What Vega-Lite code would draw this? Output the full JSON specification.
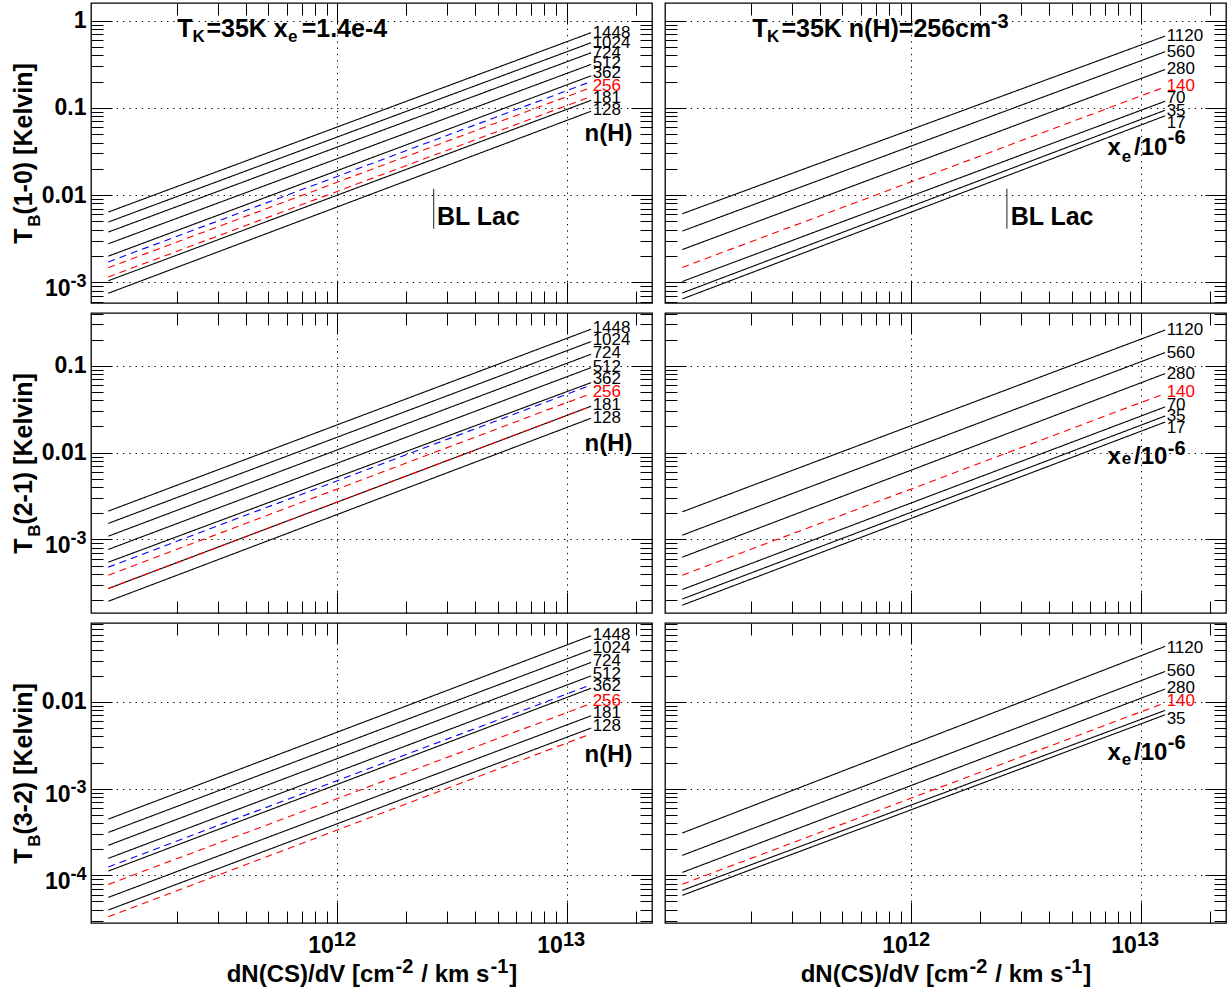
{
"$schema":"https://vega.github.io/schema/vega-lite/v6.json",
"padding":{"left":10,"top":1,"right":2,"bottom":0},
"config":{"view":{"stroke":"#000","strokeWidth":1.3},
 "axis":{"labelFont":"Liberation Sans","labelFontWeight":"bold","labelFontSize":23,"labelColor":"#000","titleFont":"Liberation Sans","titleFontWeight":"bold","titleFontSize":25,"titleColor":"#000","domain":false,"tickColor":"#000","tickWidth":1,"labelOverlap":false,"labelFlush":false,"labelBound":false,"gridColor":"#000","gridDash":[1.3,5]},
 "text":{"font":"Liberation Sans"}},
"datasets":{
"lines":[
{"panel":"r1L","series":"n1448","kind":"grid","N":1e11,"T":0.00638},{"panel":"r1L","series":"n1448","kind":"grid","N":1.28e13,"T":0.728},
{"panel":"r1L","series":"n1024","kind":"grid","N":1e11,"T":0.0049},{"panel":"r1L","series":"n1024","kind":"grid","N":1.28e13,"T":0.558},
{"panel":"r1L","series":"n724","kind":"grid","N":1e11,"T":0.00376},{"panel":"r1L","series":"n724","kind":"grid","N":1.28e13,"T":0.428},
{"panel":"r1L","series":"n512","kind":"grid","N":1e11,"T":0.00276},{"panel":"r1L","series":"n512","kind":"grid","N":1.28e13,"T":0.315},
{"panel":"r1L","series":"n362","kind":"grid","N":1e11,"T":0.00199},{"panel":"r1L","series":"n362","kind":"grid","N":1.28e13,"T":0.233},
{"panel":"r1L","series":"alt","kind":"variant","N":1e11,"T":0.00171},{"panel":"r1L","series":"alt","kind":"variant","N":1.28e13,"T":0.2},
{"panel":"r1L","series":"fid","kind":"fiducial","N":1e11,"T":0.00147},{"panel":"r1L","series":"fid","kind":"fiducial","N":1.28e13,"T":0.171},
{"panel":"r1L","series":"n181","kind":"grid","N":1e11,"T":0.00104},{"panel":"r1L","series":"n181","kind":"grid","N":1.28e13,"T":0.122},
{"panel":"r1L","series":"fid2","kind":"fiducial","N":1e11,"T":0.00115},{"panel":"r1L","series":"fid2","kind":"fiducial","N":1.28e13,"T":0.135},
{"panel":"r1L","series":"n128","kind":"grid","N":1e11,"T":0.000748},{"panel":"r1L","series":"n128","kind":"grid","N":1.28e13,"T":0.0914},
{"panel":"r1R","series":"x1120","kind":"grid","N":1e11,"T":0.0061},{"panel":"r1R","series":"x1120","kind":"grid","N":1.28e13,"T":0.665},
{"panel":"r1R","series":"x560","kind":"grid","N":1e11,"T":0.00386},{"panel":"r1R","series":"x560","kind":"grid","N":1.28e13,"T":0.44},
{"panel":"r1R","series":"x280","kind":"grid","N":1e11,"T":0.00237},{"panel":"r1R","series":"x280","kind":"grid","N":1.28e13,"T":0.275},
{"panel":"r1R","series":"x140","kind":"fiducial","N":1e11,"T":0.00148},{"panel":"r1R","series":"x140","kind":"fiducial","N":1.28e13,"T":0.174},
{"panel":"r1R","series":"x70","kind":"grid","N":1e11,"T":0.00102},{"panel":"r1R","series":"x70","kind":"grid","N":1.28e13,"T":0.119},
{"panel":"r1R","series":"x35","kind":"grid","N":1e11,"T":0.000753},{"panel":"r1R","series":"x35","kind":"grid","N":1.28e13,"T":0.0938},
{"panel":"r1R","series":"x17","kind":"grid","N":1e11,"T":0.000643},{"panel":"r1R","series":"x17","kind":"grid","N":1.28e13,"T":0.081},
{"panel":"r2L","series":"n1448","kind":"grid","N":1e11,"T":0.00212},{"panel":"r2L","series":"n1448","kind":"grid","N":1.28e13,"T":0.264},
{"panel":"r2L","series":"n1024","kind":"grid","N":1e11,"T":0.00153},{"panel":"r2L","series":"n1024","kind":"grid","N":1.28e13,"T":0.19},
{"panel":"r2L","series":"n724","kind":"grid","N":1e11,"T":0.00109},{"panel":"r2L","series":"n724","kind":"grid","N":1.28e13,"T":0.136},
{"panel":"r2L","series":"n512","kind":"grid","N":1e11,"T":0.000767},{"panel":"r2L","series":"n512","kind":"grid","N":1.28e13,"T":0.0953},
{"panel":"r2L","series":"n362","kind":"grid","N":1e11,"T":0.000547},{"panel":"r2L","series":"n362","kind":"grid","N":1.28e13,"T":0.064},
{"panel":"r2L","series":"alt","kind":"variant","N":1e11,"T":0.00048},{"panel":"r2L","series":"alt","kind":"variant","N":1.28e13,"T":0.06},
{"panel":"r2L","series":"fid","kind":"fiducial","N":1e11,"T":0.000388},{"panel":"r2L","series":"fid","kind":"fiducial","N":1.28e13,"T":0.048},
{"panel":"r2L","series":"n181","kind":"grid","N":1e11,"T":0.000272},{"panel":"r2L","series":"n181","kind":"grid","N":1.28e13,"T":0.0342},
{"panel":"r2L","series":"fid2","kind":"fiducial","N":1e11,"T":0.000272},{"panel":"r2L","series":"fid2","kind":"fiducial","N":1.28e13,"T":0.0342},
{"panel":"r2L","series":"n128","kind":"grid","N":1e11,"T":0.000194},{"panel":"r2L","series":"n128","kind":"grid","N":1.28e13,"T":0.0249},
{"panel":"r2R","series":"x1120","kind":"grid","N":1e11,"T":0.00208},{"panel":"r2R","series":"x1120","kind":"grid","N":1.28e13,"T":0.258},
{"panel":"r2R","series":"x560","kind":"grid","N":1e11,"T":0.00112},{"panel":"r2R","series":"x560","kind":"grid","N":1.28e13,"T":0.142},
{"panel":"r2R","series":"x280","kind":"grid","N":1e11,"T":0.000625},{"panel":"r2R","series":"x280","kind":"grid","N":1.28e13,"T":0.0813},
{"panel":"r2R","series":"x140","kind":"fiducial","N":1e11,"T":0.000388},{"panel":"r2R","series":"x140","kind":"fiducial","N":1.28e13,"T":0.048},
{"panel":"r2R","series":"x70","kind":"grid","N":1e11,"T":0.000265},{"panel":"r2R","series":"x70","kind":"grid","N":1.28e13,"T":0.0336},
{"panel":"r2R","series":"x35","kind":"grid","N":1e11,"T":0.000206},{"panel":"r2R","series":"x35","kind":"grid","N":1.28e13,"T":0.0264},
{"panel":"r2R","series":"x17","kind":"grid","N":1e11,"T":0.000175},{"panel":"r2R","series":"x17","kind":"grid","N":1.28e13,"T":0.0225},
{"panel":"r3L","series":"n1448","kind":"grid","N":1e11,"T":0.000445},{"panel":"r3L","series":"n1448","kind":"grid","N":1.28e13,"T":0.0581},
{"panel":"r3L","series":"n1024","kind":"grid","N":1e11,"T":0.000313},{"panel":"r3L","series":"n1024","kind":"grid","N":1.28e13,"T":0.04},
{"panel":"r3L","series":"n724","kind":"grid","N":1e11,"T":0.000222},{"panel":"r3L","series":"n724","kind":"grid","N":1.28e13,"T":0.0286},
{"panel":"r3L","series":"n512","kind":"grid","N":1e11,"T":0.000157},{"panel":"r3L","series":"n512","kind":"grid","N":1.28e13,"T":0.02},
{"panel":"r3L","series":"n362","kind":"grid","N":1e11,"T":0.000112},{"panel":"r3L","series":"n362","kind":"grid","N":1.28e13,"T":0.0144},
{"panel":"r3L","series":"alt","kind":"variant","N":1e11,"T":0.000125},{"panel":"r3L","series":"alt","kind":"variant","N":1.28e13,"T":0.0158},
{"panel":"r3L","series":"fid","kind":"fiducial","N":1e11,"T":0.0000787},{"panel":"r3L","series":"fid","kind":"fiducial","N":1.28e13,"T":0.0096},
{"panel":"r3L","series":"n181","kind":"grid","N":1e11,"T":0.0000557},{"panel":"r3L","series":"n181","kind":"grid","N":1.28e13,"T":0.00693},
{"panel":"r3L","series":"n128","kind":"grid","N":1e11,"T":0.0000398},{"panel":"r3L","series":"n128","kind":"grid","N":1.28e13,"T":0.005},
{"panel":"r3L","series":"fid2","kind":"fiducial","N":1e11,"T":0.0000333},{"panel":"r3L","series":"fid2","kind":"fiducial","N":1.28e13,"T":0.0043},
{"panel":"r3R","series":"x1120","kind":"grid","N":1e11,"T":0.000308},{"panel":"r3R","series":"x1120","kind":"grid","N":1.28e13,"T":0.0438},
{"panel":"r3R","series":"x560","kind":"grid","N":1e11,"T":0.00017},{"panel":"r3R","series":"x560","kind":"grid","N":1.28e13,"T":0.0225},
{"panel":"r3R","series":"x280","kind":"grid","N":1e11,"T":0.000108},{"panel":"r3R","series":"x280","kind":"grid","N":1.28e13,"T":0.0141},
{"panel":"r3R","series":"x140","kind":"fiducial","N":1e11,"T":0.000079},{"panel":"r3R","series":"x140","kind":"fiducial","N":1.28e13,"T":0.0098},
{"panel":"r3R","series":"x70","kind":"grid","N":1e11,"T":0.0000671},{"panel":"r3R","series":"x70","kind":"grid","N":1.28e13,"T":0.008},
{"panel":"r3R","series":"x35","kind":"grid","N":1e11,"T":0.0000588},{"panel":"r3R","series":"x35","kind":"grid","N":1.28e13,"T":0.00711}
],
"labels":[
{"panel":"r1L","text":"1448","kind":"grid","x":1.3e13,"y":0.728},{"panel":"r1L","text":"1024","kind":"grid","x":1.3e13,"y":0.558},{"panel":"r1L","text":"724","kind":"grid","x":1.3e13,"y":0.428},{"panel":"r1L","text":"512","kind":"grid","x":1.3e13,"y":0.329},{"panel":"r1L","text":"362","kind":"grid","x":1.3e13,"y":0.248},{"panel":"r1L","text":"256","kind":"fiducial","x":1.3e13,"y":0.177},{"panel":"r1L","text":"181","kind":"grid","x":1.3e13,"y":0.131},{"panel":"r1L","text":"128","kind":"grid","x":1.3e13,"y":0.0938},
{"panel":"r1R","text":"1120","kind":"grid","x":1.3e13,"y":0.665},{"panel":"r1R","text":"560","kind":"grid","x":1.3e13,"y":0.44},{"panel":"r1R","text":"280","kind":"grid","x":1.3e13,"y":0.278},{"panel":"r1R","text":"140","kind":"fiducial","x":1.3e13,"y":0.179},{"panel":"r1R","text":"70","kind":"grid","x":1.3e13,"y":0.128},{"panel":"r1R","text":"35","kind":"grid","x":1.3e13,"y":0.0914},{"panel":"r1R","text":"17","kind":"grid","x":1.3e13,"y":0.0678},
{"panel":"r2L","text":"1448","kind":"grid","x":1.3e13,"y":0.276},{"panel":"r2L","text":"1024","kind":"grid","x":1.3e13,"y":0.197},{"panel":"r2L","text":"724","kind":"grid","x":1.3e13,"y":0.14},{"panel":"r2L","text":"512","kind":"grid","x":1.3e13,"y":0.098},{"panel":"r2L","text":"362","kind":"grid","x":1.3e13,"y":0.07},{"panel":"r2L","text":"256","kind":"fiducial","x":1.3e13,"y":0.0504},{"panel":"r2L","text":"181","kind":"grid","x":1.3e13,"y":0.0354},{"panel":"r2L","text":"128","kind":"grid","x":1.3e13,"y":0.0253},
{"panel":"r2R","text":"1120","kind":"grid","x":1.3e13,"y":0.258},{"panel":"r2R","text":"560","kind":"grid","x":1.3e13,"y":0.142},{"panel":"r2R","text":"280","kind":"grid","x":1.3e13,"y":0.0813},{"panel":"r2R","text":"140","kind":"fiducial","x":1.3e13,"y":0.0504},{"panel":"r2R","text":"70","kind":"grid","x":1.3e13,"y":0.0351},{"panel":"r2R","text":"35","kind":"grid","x":1.3e13,"y":0.0264},{"panel":"r2R","text":"17","kind":"grid","x":1.3e13,"y":0.0194},
{"panel":"r3L","text":"1448","kind":"grid","x":1.3e13,"y":0.0596},{"panel":"r3L","text":"1024","kind":"grid","x":1.3e13,"y":0.0419},{"panel":"r3L","text":"724","kind":"grid","x":1.3e13,"y":0.0294},{"panel":"r3L","text":"512","kind":"grid","x":1.3e13,"y":0.0211},{"panel":"r3L","text":"362","kind":"grid","x":1.3e13,"y":0.0151},{"panel":"r3L","text":"256","kind":"fiducial","x":1.3e13,"y":0.0104},{"panel":"r3L","text":"181","kind":"grid","x":1.3e13,"y":0.00744},{"panel":"r3L","text":"128","kind":"grid","x":1.3e13,"y":0.00523},
{"panel":"r3R","text":"1120","kind":"grid","x":1.3e13,"y":0.0419},{"panel":"r3R","text":"560","kind":"grid","x":1.3e13,"y":0.0225},{"panel":"r3R","text":"280","kind":"grid","x":1.3e13,"y":0.0144},{"panel":"r3R","text":"140","kind":"fiducial","x":1.3e13,"y":0.0103},{"panel":"r3R","text":"35","kind":"grid","x":1.3e13,"y":0.00635}
],
"captions":[
{"panel":"r1L","text":"T\u00a0\u00a0=35K x\u00a0\u00a0=1.4e-4","x":2.0e11,"y":0.8},{"panel":"r1L","text":"BL Lac","x":2.72e12,"y":0.00564},
{"panel":"r1R","text":"T\u00a0\u00a0=35K n(H)=256cm","x":2.02e11,"y":0.8},{"panel":"r1R","text":"BL Lac","x":2.71e12,"y":0.00564}
],
"capsub":[
{"panel":"r1L","text":"K","x":2.332e11,"y":0.643},{"panel":"r1L","text":"e","x":6.09e11,"y":0.643},
{"panel":"r1R","text":"K","x":2.344e11,"y":0.643},{"panel":"r1R","text":"e","x":8.28e12,"y":0.0275},
{"panel":"r2R","text":"e","x":8.28e12,"y":0.00837},{"panel":"r3R","text":"e","x":8.28e12,"y":0.00215}
],
"keys":[
{"panel":"r1L","text":"n(H)","x":1.94e13,"y":0.0507},{"panel":"r1R","text":"x\u00a0\u00a0/10","x":1.31e13,"y":0.0342},
{"panel":"r2L","text":"n(H)","x":1.94e13,"y":0.01247},{"panel":"r2R","text":"x\u00a0\u00a0/10","x":1.31e13,"y":0.009},
{"panel":"r3L","text":"n(H)","x":1.94e13,"y":0.00246},{"panel":"r3R","text":"x\u00a0\u00a0/10","x":1.31e13,"y":0.00259}
],
"keyexp":[
{"panel":"r1R","text":"-6","x":1.315e13,"y":0.0456},{"panel":"r1R","text":"-3","x":2.22e12,"y":0.969},{"panel":"r2R","text":"-6","x":1.315e13,"y":0.011},{"panel":"r3R","text":"-6","x":1.315e13,"y":0.00336}
],
"bars":[
{"panel":"r1L","x":2.63e12,"y":0.0041,"y2":0.0118},{"panel":"r1R","x":2.61e12,"y":0.0041,"y2":0.0118}
]
},
"concat":[
{"width":561,"height":300,"layer":[
 {"data":{"name":"lines"},"transform":[{"filter":"datum.panel=='r1L'"}],"mark":{"type":"line","strokeWidth":1.1},
  "encoding":{"x":{"field":"N","type":"quantitative","scale":{"type":"log","domain":[8.405e10,2.36e13],"nice":false},
   "axis":{"orient":"bottom","values":[2e11,3e11,4e11,5e11,6e11,7e11,8e11,9e11,1e12,2e12,3e12,4e12,5e12,6e12,7e12,8e12,9e12,1e13,2e13],"labels":false,"title":null,"tickSize":-12,"grid":true,"gridOpacity":{"condition":{"test":"datum.value==1e12||datum.value==1e13","value":1},"value":0}}},
  "y":{"field":"T","type":"quantitative","scale":{"type":"log","domain":[0.000578,1.593],"nice":false},
   "axis":{"orient":"left","values":[0.0006,0.0007,0.0008,0.0009,0.001,0.002,0.003,0.004,0.005,0.006,0.007,0.008,0.009,0.01,0.02,0.03,0.04,0.05,0.06,0.07,0.08,0.09,0.1,0.2,0.3,0.4,0.5,0.6,0.7,0.8,0.9,1],"labelExpr":"datum.value==1?'1':datum.value==0.1?'0.1':datum.value==0.01?'0.01':''","labelFontSize":{"condition":{"test":"datum.value==1||datum.value==0.1||datum.value==0.01","value":23},"value":0},"labelPadding":17,"tickSize":-12,"grid":true,"gridOpacity":{"condition":{"test":"datum.value==1||datum.value==0.1||datum.value==0.01||datum.value==0.001||datum.value==0.0001","value":1},"value":0},"title":"T\u00a0\u00a0(1-0) [Kelvin]","titleX":-59.5,"titleY":150,"titleAngle":-90,"titleAlign":"center","titleBaseline":"alphabetic"}},
  "detail":{"field":"series"},
  "color":{"field":"kind","type":"nominal","scale":{"domain":["grid","fiducial","variant"],"range":["#000000","#ff0000","#0000ff"]},"legend":null},
  "strokeDash":{"field":"kind","type":"nominal","scale":{"domain":["grid","fiducial","variant"],"range":[[1,0],[7,5],[7,5]]},"legend":null}}},
 {"data":{"name":"labels"},"transform":[{"filter":"datum.panel=='r1L' && datum.kind=='grid'"}],"mark":{"type":"text","align":"left","baseline":"middle","fontSize":17},
  "encoding":{"x":{"field":"x","type":"quantitative","scale":{"type":"log","domain":[8.405e10,2.36e13],"nice":false},
   "axis":{"orient":"top","values":[2e11,3e11,4e11,5e11,6e11,7e11,8e11,9e11,1e12,2e12,3e12,4e12,5e12,6e12,7e12,8e12,9e12,1e13,2e13],"labels":false,"title":null,"grid":false,"tickSize":-12}},
  "y":{"field":"y","type":"quantitative","scale":{"type":"log","domain":[0.000578,1.593],"nice":false},
   "axis":{"orient":"right","values":[0.0006,0.0007,0.0008,0.0009,0.001,0.002,0.003,0.004,0.005,0.006,0.007,0.008,0.009,0.01,0.02,0.03,0.04,0.05,0.06,0.07,0.08,0.09,0.1,0.2,0.3,0.4,0.5,0.6,0.7,0.8,0.9,1],"labels":false,"title":null,"grid":false,"tickSize":-12}},
  "text":{"field":"text"},
  "color":{"field":"kind","type":"nominal","scale":{"domain":["grid","fiducial","variant"],"range":["#000000","#ff0000","#0000ff"]},"legend":null}}},
 {"data":{"name":"labels"},"transform":[{"filter":"datum.panel=='r1L' && datum.kind=='fiducial'"}],"mark":{"type":"text","align":"left","baseline":"middle","fontSize":17},
  "encoding":{"x":{"field":"x","type":"quantitative","scale":{"type":"log","domain":[8.405e10,2.36e13],"nice":false},
   "axis":{"orient":"bottom","values":[1e12,1e13],"labels":false,"title":null,"grid":false,"tickSize":-21}},
  "y":{"field":"y","type":"quantitative","scale":{"type":"log","domain":[0.000578,1.593],"nice":false},
   "axis":{"orient":"left","values":[0.001,0.01,0.1,1],"labelExpr":"(datum.value==0.001||datum.value==0.0001)?'10':''","labelFontSize":{"condition":{"test":"datum.value==0.001||datum.value==0.0001","value":23},"value":0},"labelPadding":42,"labelOffset":6,"title":null,"grid":false,"tickSize":-21}},
  "text":{"field":"text"},
  "color":{"field":"kind","type":"nominal","scale":{"domain":["grid","fiducial","variant"],"range":["#000000","#ff0000","#0000ff"]},"legend":null}}},
 {"data":{"name":"captions"},"transform":[{"filter":"datum.panel=='r1L'"}],"mark":{"type":"text","align":"left","baseline":"middle","fontSize":25,"fontWeight":"bold","color":"#000"},
  "encoding":{"x":{"field":"x","type":"quantitative","scale":{"type":"log","domain":[8.405e10,2.36e13],"nice":false},"axis":null},
   "y":{"field":"y","type":"quantitative","scale":{"type":"log","domain":[0.000578,1.593],"nice":false},"axis":null},"text":{"field":"text"}}},
 {"data":{"name":"capsub"},"transform":[{"filter":"datum.panel=='r1L'"}],"mark":{"type":"text","align":"left","baseline":"middle","fontSize":17,"fontWeight":"bold","color":"#000"},
  "encoding":{"x":{"field":"x","type":"quantitative","scale":{"type":"log","domain":[8.405e10,2.36e13],"nice":false},"axis":null},
   "y":{"field":"y","type":"quantitative","scale":{"type":"log","domain":[0.000578,1.593],"nice":false},"axis":null},"text":{"field":"text"}}},
 {"data":{"name":"keys"},"transform":[{"filter":"datum.panel=='r1L'"}],"mark":{"type":"text","align":"right","baseline":"middle","fontSize":24,"fontWeight":"bold","color":"#000"},
  "encoding":{"x":{"field":"x","type":"quantitative","scale":{"type":"log","domain":[8.405e10,2.36e13],"nice":false},"axis":null},
   "y":{"field":"y","type":"quantitative","scale":{"type":"log","domain":[0.000578,1.593],"nice":false},
    "axis":{"orient":"left","values":[0.001],"labelExpr":"datum.value==0.001?'-3':'-4'","ticks":false,"tickSize":0,"grid":false,"domain":false,"labelFontSize":18,"labelPadding":5,"labelOffset":-1,"title":"B","titleFontSize":17,"titleX":-52,"titleY":217,"titleAngle":-90,"titleAlign":"center","titleBaseline":"alphabetic"}},"text":{"field":"text"}}},
 {"data":{"name":"bars"},"transform":[{"filter":"datum.panel=='r1L'"}],"mark":{"type":"rule","color":"#444","strokeWidth":1.2},
  "encoding":{"x":{"field":"x","type":"quantitative","scale":{"type":"log","domain":[8.405e10,2.36e13],"nice":false},"axis":{"orient":"top","values":[1e12,1e13],"labels":false,"title":null,"grid":false,"tickSize":-21}},
   "y":{"field":"y","type":"quantitative","scale":{"type":"log","domain":[0.000578,1.593],"nice":false},"axis":{"orient":"right","values":[0.001,0.01,0.1,1],"labels":false,"title":null,"grid":false,"tickSize":-21}},"y2":{"field":"y2"}}}
],"resolve":{"axis":{"x":"independent","y":"independent"}}},

{"width":561,"height":300,"layer":[
 {"data":{"name":"lines"},"transform":[{"filter":"datum.panel=='r1R'"}],"mark":{"type":"line","strokeWidth":1.1},
  "encoding":{"x":{"field":"N","type":"quantitative","scale":{"type":"log","domain":[8.405e10,2.36e13],"nice":false},
   "axis":{"orient":"bottom","values":[2e11,3e11,4e11,5e11,6e11,7e11,8e11,9e11,1e12,2e12,3e12,4e12,5e12,6e12,7e12,8e12,9e12,1e13,2e13],"labels":false,"title":null,"tickSize":-12,"grid":true,"gridOpacity":{"condition":{"test":"datum.value==1e12||datum.value==1e13","value":1},"value":0}}},
  "y":{"field":"T","type":"quantitative","scale":{"type":"log","domain":[0.000578,1.593],"nice":false},
   "axis":{"orient":"left","values":[0.0006,0.0007,0.0008,0.0009,0.001,0.002,0.003,0.004,0.005,0.006,0.007,0.008,0.009,0.01,0.02,0.03,0.04,0.05,0.06,0.07,0.08,0.09,0.1,0.2,0.3,0.4,0.5,0.6,0.7,0.8,0.9,1],"labels":false,"title":null,"tickSize":-12,"grid":true,"gridOpacity":{"condition":{"test":"datum.value==1||datum.value==0.1||datum.value==0.01||datum.value==0.001||datum.value==0.0001","value":1},"value":0}}},
  "detail":{"field":"series"},
  "color":{"field":"kind","type":"nominal","scale":{"domain":["grid","fiducial","variant"],"range":["#000000","#ff0000","#0000ff"]},"legend":null},
  "strokeDash":{"field":"kind","type":"nominal","scale":{"domain":["grid","fiducial","variant"],"range":[[1,0],[7,5],[7,5]]},"legend":null}}},
 {"data":{"name":"labels"},"transform":[{"filter":"datum.panel=='r1R' && datum.kind=='grid'"}],"mark":{"type":"text","align":"left","baseline":"middle","fontSize":17},
  "encoding":{"x":{"field":"x","type":"quantitative","scale":{"type":"log","domain":[8.405e10,2.36e13],"nice":false},
   "axis":{"orient":"top","values":[2e11,3e11,4e11,5e11,6e11,7e11,8e11,9e11,1e12,2e12,3e12,4e12,5e12,6e12,7e12,8e12,9e12,1e13,2e13],"labels":false,"title":null,"grid":false,"tickSize":-12}},
  "y":{"field":"y","type":"quantitative","scale":{"type":"log","domain":[0.000578,1.593],"nice":false},
   "axis":{"orient":"right","values":[0.0006,0.0007,0.0008,0.0009,0.001,0.002,0.003,0.004,0.005,0.006,0.007,0.008,0.009,0.01,0.02,0.03,0.04,0.05,0.06,0.07,0.08,0.09,0.1,0.2,0.3,0.4,0.5,0.6,0.7,0.8,0.9,1],"labels":false,"title":null,"grid":false,"tickSize":-12}},
  "text":{"field":"text"},
  "color":{"field":"kind","type":"nominal","scale":{"domain":["grid","fiducial","variant"],"range":["#000000","#ff0000","#0000ff"]},"legend":null}}},
 {"data":{"name":"labels"},"transform":[{"filter":"datum.panel=='r1R' && datum.kind=='fiducial'"}],"mark":{"type":"text","align":"left","baseline":"middle","fontSize":17},
  "encoding":{"x":{"field":"x","type":"quantitative","scale":{"type":"log","domain":[8.405e10,2.36e13],"nice":false},
   "axis":{"orient":"bottom","values":[1e12,1e13],"labels":false,"title":null,"grid":false,"tickSize":-21}},
  "y":{"field":"y","type":"quantitative","scale":{"type":"log","domain":[0.000578,1.593],"nice":false},
   "axis":{"orient":"left","values":[0.001,0.01,0.1,1],"labels":false,"title":null,"grid":false,"tickSize":-21}},
  "text":{"field":"text"},
  "color":{"field":"kind","type":"nominal","scale":{"domain":["grid","fiducial","variant"],"range":["#000000","#ff0000","#0000ff"]},"legend":null}}},
 {"data":{"name":"captions"},"transform":[{"filter":"datum.panel=='r1R'"}],"mark":{"type":"text","align":"left","baseline":"middle","fontSize":25,"fontWeight":"bold","color":"#000"},
  "encoding":{"x":{"field":"x","type":"quantitative","scale":{"type":"log","domain":[8.405e10,2.36e13],"nice":false},"axis":null},
   "y":{"field":"y","type":"quantitative","scale":{"type":"log","domain":[0.000578,1.593],"nice":false},"axis":null},"text":{"field":"text"}}},
 {"data":{"name":"capsub"},"transform":[{"filter":"datum.panel=='r1R'"}],"mark":{"type":"text","align":"left","baseline":"middle","fontSize":17,"fontWeight":"bold","color":"#000"},
  "encoding":{"x":{"field":"x","type":"quantitative","scale":{"type":"log","domain":[8.405e10,2.36e13],"nice":false},"axis":null},
   "y":{"field":"y","type":"quantitative","scale":{"type":"log","domain":[0.000578,1.593],"nice":false},"axis":null},"text":{"field":"text"}}},
 {"data":{"name":"keys"},"transform":[{"filter":"datum.panel=='r1R'"}],"mark":{"type":"text","align":"right","baseline":"middle","fontSize":24,"fontWeight":"bold","color":"#000"},
  "encoding":{"x":{"field":"x","type":"quantitative","scale":{"type":"log","domain":[8.405e10,2.36e13],"nice":false},"axis":null},
   "y":{"field":"y","type":"quantitative","scale":{"type":"log","domain":[0.000578,1.593],"nice":false},"axis":null},"text":{"field":"text"}}},
 {"data":{"name":"keyexp"},"transform":[{"filter":"datum.panel=='r1R'"}],"mark":{"type":"text","align":"left","baseline":"middle","fontSize":20,"fontWeight":"bold","color":"#000"},
  "encoding":{"x":{"field":"x","type":"quantitative","scale":{"type":"log","domain":[8.405e10,2.36e13],"nice":false},"axis":null},
   "y":{"field":"y","type":"quantitative","scale":{"type":"log","domain":[0.000578,1.593],"nice":false},"axis":null},"text":{"field":"text"}}},
 {"data":{"name":"bars"},"transform":[{"filter":"datum.panel=='r1R'"}],"mark":{"type":"rule","color":"#444","strokeWidth":1.2},
  "encoding":{"x":{"field":"x","type":"quantitative","scale":{"type":"log","domain":[8.405e10,2.36e13],"nice":false},"axis":{"orient":"top","values":[1e12,1e13],"labels":false,"title":null,"grid":false,"tickSize":-21}},
   "y":{"field":"y","type":"quantitative","scale":{"type":"log","domain":[0.000578,1.593],"nice":false},"axis":{"orient":"right","values":[0.001,0.01,0.1,1],"labels":false,"title":null,"grid":false,"tickSize":-21}},"y2":{"field":"y2"}}}
],"resolve":{"axis":{"x":"independent","y":"independent"}}},

{"width":561,"height":300,"layer":[
 {"data":{"name":"lines"},"transform":[{"filter":"datum.panel=='r2L'"}],"mark":{"type":"line","strokeWidth":1.1},
  "encoding":{"x":{"field":"N","type":"quantitative","scale":{"type":"log","domain":[8.405e10,2.36e13],"nice":false},
   "axis":{"orient":"bottom","values":[2e11,3e11,4e11,5e11,6e11,7e11,8e11,9e11,1e12,2e12,3e12,4e12,5e12,6e12,7e12,8e12,9e12,1e13,2e13],"labels":false,"title":null,"tickSize":-12,"grid":true,"gridOpacity":{"condition":{"test":"datum.value==1e12||datum.value==1e13","value":1},"value":0}}},
  "y":{"field":"T","type":"quantitative","scale":{"type":"log","domain":[0.0001422,0.4055],"nice":false},
   "axis":{"orient":"left","values":[0.0002,0.0003,0.0004,0.0005,0.0006,0.0007,0.0008,0.0009,0.001,0.002,0.003,0.004,0.005,0.006,0.007,0.008,0.009,0.01,0.02,0.03,0.04,0.05,0.06,0.07,0.08,0.09,0.1,0.2,0.3,0.4],"labelExpr":"datum.value==1?'1':datum.value==0.1?'0.1':datum.value==0.01?'0.01':''","labelFontSize":{"condition":{"test":"datum.value==1||datum.value==0.1||datum.value==0.01","value":23},"value":0},"labelPadding":17,"tickSize":-12,"grid":true,"gridOpacity":{"condition":{"test":"datum.value==1||datum.value==0.1||datum.value==0.01||datum.value==0.001||datum.value==0.0001","value":1},"value":0},"title":"T\u00a0\u00a0(2-1) [Kelvin]","titleX":-59.5,"titleY":150,"titleAngle":-90,"titleAlign":"center","titleBaseline":"alphabetic"}},
  "detail":{"field":"series"},
  "color":{"field":"kind","type":"nominal","scale":{"domain":["grid","fiducial","variant"],"range":["#000000","#ff0000","#0000ff"]},"legend":null},
  "strokeDash":{"field":"kind","type":"nominal","scale":{"domain":["grid","fiducial","variant"],"range":[[1,0],[7,5],[7,5]]},"legend":null}}},
 {"data":{"name":"labels"},"transform":[{"filter":"datum.panel=='r2L' && datum.kind=='grid'"}],"mark":{"type":"text","align":"left","baseline":"middle","fontSize":17},
  "encoding":{"x":{"field":"x","type":"quantitative","scale":{"type":"log","domain":[8.405e10,2.36e13],"nice":false},
   "axis":{"orient":"top","values":[2e11,3e11,4e11,5e11,6e11,7e11,8e11,9e11,1e12,2e12,3e12,4e12,5e12,6e12,7e12,8e12,9e12,1e13,2e13],"labels":false,"title":null,"grid":false,"tickSize":-12}},
  "y":{"field":"y","type":"quantitative","scale":{"type":"log","domain":[0.0001422,0.4055],"nice":false},
   "axis":{"orient":"right","values":[0.0002,0.0003,0.0004,0.0005,0.0006,0.0007,0.0008,0.0009,0.001,0.002,0.003,0.004,0.005,0.006,0.007,0.008,0.009,0.01,0.02,0.03,0.04,0.05,0.06,0.07,0.08,0.09,0.1,0.2,0.3,0.4],"labels":false,"title":null,"grid":false,"tickSize":-12}},
  "text":{"field":"text"},
  "color":{"field":"kind","type":"nominal","scale":{"domain":["grid","fiducial","variant"],"range":["#000000","#ff0000","#0000ff"]},"legend":null}}},
 {"data":{"name":"labels"},"transform":[{"filter":"datum.panel=='r2L' && datum.kind=='fiducial'"}],"mark":{"type":"text","align":"left","baseline":"middle","fontSize":17},
  "encoding":{"x":{"field":"x","type":"quantitative","scale":{"type":"log","domain":[8.405e10,2.36e13],"nice":false},
   "axis":{"orient":"bottom","values":[1e12,1e13],"labels":false,"title":null,"grid":false,"tickSize":-21}},
  "y":{"field":"y","type":"quantitative","scale":{"type":"log","domain":[0.0001422,0.4055],"nice":false},
   "axis":{"orient":"left","values":[0.001,0.01,0.1],"labelExpr":"(datum.value==0.001||datum.value==0.0001)?'10':''","labelFontSize":{"condition":{"test":"datum.value==0.001||datum.value==0.0001","value":23},"value":0},"labelPadding":42,"labelOffset":6,"title":null,"grid":false,"tickSize":-21}},
  "text":{"field":"text"},
  "color":{"field":"kind","type":"nominal","scale":{"domain":["grid","fiducial","variant"],"range":["#000000","#ff0000","#0000ff"]},"legend":null}}},
 {"data":{"name":"keys"},"transform":[{"filter":"datum.panel=='r2L'"}],"mark":{"type":"text","align":"right","baseline":"middle","fontSize":24,"fontWeight":"bold","color":"#000"},
  "encoding":{"x":{"field":"x","type":"quantitative","scale":{"type":"log","domain":[8.405e10,2.36e13],"nice":false},"axis":null},
   "y":{"field":"y","type":"quantitative","scale":{"type":"log","domain":[0.0001422,0.4055],"nice":false},
    "axis":{"orient":"left","values":[0.001],"labelExpr":"datum.value==0.001?'-3':'-4'","ticks":false,"tickSize":0,"grid":false,"domain":false,"labelFontSize":18,"labelPadding":5,"labelOffset":-1,"title":"B","titleFontSize":17,"titleX":-52,"titleY":217,"titleAngle":-90,"titleAlign":"center","titleBaseline":"alphabetic"}},"text":{"field":"text"}}},
 {"data":{"name":"bars"},"transform":[{"filter":"datum.panel=='r2L'"}],"mark":{"type":"rule","color":"#444","strokeWidth":1.2},
  "encoding":{"x":{"field":"x","type":"quantitative","scale":{"type":"log","domain":[8.405e10,2.36e13],"nice":false},"axis":{"orient":"top","values":[1e12,1e13],"labels":false,"title":null,"grid":false,"tickSize":-21}},
   "y":{"field":"y","type":"quantitative","scale":{"type":"log","domain":[0.0001422,0.4055],"nice":false},"axis":{"orient":"right","values":[0.001,0.01,0.1],"labels":false,"title":null,"grid":false,"tickSize":-21}},"y2":{"field":"y2"}}}
],"resolve":{"axis":{"x":"independent","y":"independent"}}},

{"width":561,"height":300,"layer":[
 {"data":{"name":"lines"},"transform":[{"filter":"datum.panel=='r2R'"}],"mark":{"type":"line","strokeWidth":1.1},
  "encoding":{"x":{"field":"N","type":"quantitative","scale":{"type":"log","domain":[8.405e10,2.36e13],"nice":false},
   "axis":{"orient":"bottom","values":[2e11,3e11,4e11,5e11,6e11,7e11,8e11,9e11,1e12,2e12,3e12,4e12,5e12,6e12,7e12,8e12,9e12,1e13,2e13],"labels":false,"title":null,"tickSize":-12,"grid":true,"gridOpacity":{"condition":{"test":"datum.value==1e12||datum.value==1e13","value":1},"value":0}}},
  "y":{"field":"T","type":"quantitative","scale":{"type":"log","domain":[0.0001422,0.4055],"nice":false},
   "axis":{"orient":"left","values":[0.0002,0.0003,0.0004,0.0005,0.0006,0.0007,0.0008,0.0009,0.001,0.002,0.003,0.004,0.005,0.006,0.007,0.008,0.009,0.01,0.02,0.03,0.04,0.05,0.06,0.07,0.08,0.09,0.1,0.2,0.3,0.4],"labels":false,"title":null,"tickSize":-12,"grid":true,"gridOpacity":{"condition":{"test":"datum.value==1||datum.value==0.1||datum.value==0.01||datum.value==0.001||datum.value==0.0001","value":1},"value":0}}},
  "detail":{"field":"series"},
  "color":{"field":"kind","type":"nominal","scale":{"domain":["grid","fiducial","variant"],"range":["#000000","#ff0000","#0000ff"]},"legend":null},
  "strokeDash":{"field":"kind","type":"nominal","scale":{"domain":["grid","fiducial","variant"],"range":[[1,0],[7,5],[7,5]]},"legend":null}}},
 {"data":{"name":"labels"},"transform":[{"filter":"datum.panel=='r2R' && datum.kind=='grid'"}],"mark":{"type":"text","align":"left","baseline":"middle","fontSize":17},
  "encoding":{"x":{"field":"x","type":"quantitative","scale":{"type":"log","domain":[8.405e10,2.36e13],"nice":false},
   "axis":{"orient":"top","values":[2e11,3e11,4e11,5e11,6e11,7e11,8e11,9e11,1e12,2e12,3e12,4e12,5e12,6e12,7e12,8e12,9e12,1e13,2e13],"labels":false,"title":null,"grid":false,"tickSize":-12}},
  "y":{"field":"y","type":"quantitative","scale":{"type":"log","domain":[0.0001422,0.4055],"nice":false},
   "axis":{"orient":"right","values":[0.0002,0.0003,0.0004,0.0005,0.0006,0.0007,0.0008,0.0009,0.001,0.002,0.003,0.004,0.005,0.006,0.007,0.008,0.009,0.01,0.02,0.03,0.04,0.05,0.06,0.07,0.08,0.09,0.1,0.2,0.3,0.4],"labels":false,"title":null,"grid":false,"tickSize":-12}},
  "text":{"field":"text"},
  "color":{"field":"kind","type":"nominal","scale":{"domain":["grid","fiducial","variant"],"range":["#000000","#ff0000","#0000ff"]},"legend":null}}},
 {"data":{"name":"labels"},"transform":[{"filter":"datum.panel=='r2R' && datum.kind=='fiducial'"}],"mark":{"type":"text","align":"left","baseline":"middle","fontSize":17},
  "encoding":{"x":{"field":"x","type":"quantitative","scale":{"type":"log","domain":[8.405e10,2.36e13],"nice":false},
   "axis":{"orient":"bottom","values":[1e12,1e13],"labels":false,"title":null,"grid":false,"tickSize":-21}},
  "y":{"field":"y","type":"quantitative","scale":{"type":"log","domain":[0.0001422,0.4055],"nice":false},
   "axis":{"orient":"left","values":[0.001,0.01,0.1],"labels":false,"title":null,"grid":false,"tickSize":-21}},
  "text":{"field":"text"},
  "color":{"field":"kind","type":"nominal","scale":{"domain":["grid","fiducial","variant"],"range":["#000000","#ff0000","#0000ff"]},"legend":null}}},
 {"data":{"name":"capsub"},"transform":[{"filter":"datum.panel=='r2R'"}],"mark":{"type":"text","align":"left","baseline":"middle","fontSize":17,"fontWeight":"bold","color":"#000"},
  "encoding":{"x":{"field":"x","type":"quantitative","scale":{"type":"log","domain":[8.405e10,2.36e13],"nice":false},"axis":null},
   "y":{"field":"y","type":"quantitative","scale":{"type":"log","domain":[0.0001422,0.4055],"nice":false},"axis":null},"text":{"field":"text"}}},
 {"data":{"name":"keys"},"transform":[{"filter":"datum.panel=='r2R'"}],"mark":{"type":"text","align":"right","baseline":"middle","fontSize":24,"fontWeight":"bold","color":"#000"},
  "encoding":{"x":{"field":"x","type":"quantitative","scale":{"type":"log","domain":[8.405e10,2.36e13],"nice":false},"axis":null},
   "y":{"field":"y","type":"quantitative","scale":{"type":"log","domain":[0.0001422,0.4055],"nice":false},"axis":null},"text":{"field":"text"}}},
 {"data":{"name":"keyexp"},"transform":[{"filter":"datum.panel=='r2R'"}],"mark":{"type":"text","align":"left","baseline":"middle","fontSize":20,"fontWeight":"bold","color":"#000"},
  "encoding":{"x":{"field":"x","type":"quantitative","scale":{"type":"log","domain":[8.405e10,2.36e13],"nice":false},"axis":null},
   "y":{"field":"y","type":"quantitative","scale":{"type":"log","domain":[0.0001422,0.4055],"nice":false},"axis":null},"text":{"field":"text"}}},
 {"data":{"name":"bars"},"transform":[{"filter":"datum.panel=='r2R'"}],"mark":{"type":"rule","color":"#444","strokeWidth":1.2},
  "encoding":{"x":{"field":"x","type":"quantitative","scale":{"type":"log","domain":[8.405e10,2.36e13],"nice":false},"axis":{"orient":"top","values":[1e12,1e13],"labels":false,"title":null,"grid":false,"tickSize":-21}},
   "y":{"field":"y","type":"quantitative","scale":{"type":"log","domain":[0.0001422,0.4055],"nice":false},"axis":{"orient":"right","values":[0.001,0.01,0.1],"labels":false,"title":null,"grid":false,"tickSize":-21}},"y2":{"field":"y2"}}}
],"resolve":{"axis":{"x":"independent","y":"independent"}}},

{"width":561,"height":300,"layer":[
 {"data":{"name":"lines"},"transform":[{"filter":"datum.panel=='r3L'"}],"mark":{"type":"line","strokeWidth":1.1},
  "encoding":{"x":{"field":"N","type":"quantitative","scale":{"type":"log","domain":[8.405e10,2.36e13],"nice":false},
   "axis":{"orient":"bottom","values":[2e11,3e11,4e11,5e11,6e11,7e11,8e11,9e11,1e12,2e12,3e12,4e12,5e12,6e12,7e12,8e12,9e12,1e13,2e13],"labelExpr":"(datum.value==1e12||datum.value==1e13)?'10':''","labelFontSize":{"condition":{"test":"datum.value==1e12||datum.value==1e13","value":23},"value":0},"labelOffset":-17,"labelPadding":23,"title":"dN(CS)/dV [cm\u00a0\u00a0\u00a0 / km s\u00a0\u00a0\u00a0]","titleFontSize":24,"titleX":280.5,"titleY":58,"titleAlign":"center","titleBaseline":"alphabetic","tickSize":-12,"grid":true,"gridOpacity":{"condition":{"test":"datum.value==1e12||datum.value==1e13","value":1},"value":0}}},
  "y":{"field":"T","type":"quantitative","scale":{"type":"log","domain":[0.0000282,0.0815],"nice":false},
   "axis":{"orient":"left","values":[0.00003,0.00004,0.00005,0.00006,0.00007,0.00008,0.00009,0.0001,0.0002,0.0003,0.0004,0.0005,0.0006,0.0007,0.0008,0.0009,0.001,0.002,0.003,0.004,0.005,0.006,0.007,0.008,0.009,0.01,0.02,0.03,0.04,0.05,0.06,0.07,0.08],"labelExpr":"datum.value==1?'1':datum.value==0.1?'0.1':datum.value==0.01?'0.01':''","labelFontSize":{"condition":{"test":"datum.value==1||datum.value==0.1||datum.value==0.01","value":23},"value":0},"labelPadding":17,"tickSize":-12,"grid":true,"gridOpacity":{"condition":{"test":"datum.value==1||datum.value==0.1||datum.value==0.01||datum.value==0.001||datum.value==0.0001","value":1},"value":0},"title":"T\u00a0\u00a0(3-2) [Kelvin]","titleX":-59.5,"titleY":150,"titleAngle":-90,"titleAlign":"center","titleBaseline":"alphabetic"}},
  "detail":{"field":"series"},
  "color":{"field":"kind","type":"nominal","scale":{"domain":["grid","fiducial","variant"],"range":["#000000","#ff0000","#0000ff"]},"legend":null},
  "strokeDash":{"field":"kind","type":"nominal","scale":{"domain":["grid","fiducial","variant"],"range":[[1,0],[7,5],[7,5]]},"legend":null}}},
 {"data":{"name":"labels"},"transform":[{"filter":"datum.panel=='r3L' && datum.kind=='grid'"}],"mark":{"type":"text","align":"left","baseline":"middle","fontSize":17},
  "encoding":{"x":{"field":"x","type":"quantitative","scale":{"type":"log","domain":[8.405e10,2.36e13],"nice":false},
   "axis":{"orient":"top","values":[2e11,3e11,4e11,5e11,6e11,7e11,8e11,9e11,1e12,2e12,3e12,4e12,5e12,6e12,7e12,8e12,9e12,1e13,2e13],"labels":false,"title":null,"grid":false,"tickSize":-12}},
  "y":{"field":"y","type":"quantitative","scale":{"type":"log","domain":[0.0000282,0.0815],"nice":false},
   "axis":{"orient":"right","values":[0.00003,0.00004,0.00005,0.00006,0.00007,0.00008,0.00009,0.0001,0.0002,0.0003,0.0004,0.0005,0.0006,0.0007,0.0008,0.0009,0.001,0.002,0.003,0.004,0.005,0.006,0.007,0.008,0.009,0.01,0.02,0.03,0.04,0.05,0.06,0.07,0.08],"labels":false,"title":null,"grid":false,"tickSize":-12}},
  "text":{"field":"text"},
  "color":{"field":"kind","type":"nominal","scale":{"domain":["grid","fiducial","variant"],"range":["#000000","#ff0000","#0000ff"]},"legend":null}}},
 {"data":{"name":"labels"},"transform":[{"filter":"datum.panel=='r3L' && datum.kind=='fiducial'"}],"mark":{"type":"text","align":"left","baseline":"middle","fontSize":17},
  "encoding":{"x":{"field":"x","type":"quantitative","scale":{"type":"log","domain":[8.405e10,2.36e13],"nice":false},
   "axis":{"orient":"bottom","values":[1e12,1e13],"labels":false,"grid":false,"tickSize":-21,"title":"-2","titleFontSize":20,"titleX":313,"titleY":49,"titleAlign":"center","titleBaseline":"alphabetic"}},
  "y":{"field":"y","type":"quantitative","scale":{"type":"log","domain":[0.0000282,0.0815],"nice":false},
   "axis":{"orient":"left","values":[0.0001,0.001,0.01],"labelExpr":"(datum.value==0.001||datum.value==0.0001)?'10':''","labelFontSize":{"condition":{"test":"datum.value==0.001||datum.value==0.0001","value":23},"value":0},"labelPadding":42,"labelOffset":6,"title":null,"grid":false,"tickSize":-21}},
  "text":{"field":"text"},
  "color":{"field":"kind","type":"nominal","scale":{"domain":["grid","fiducial","variant"],"range":["#000000","#ff0000","#0000ff"]},"legend":null}}},
 {"data":{"name":"keys"},"transform":[{"filter":"datum.panel=='r3L'"}],"mark":{"type":"text","align":"right","baseline":"middle","fontSize":24,"fontWeight":"bold","color":"#000"},
  "encoding":{"x":{"field":"x","type":"quantitative","scale":{"type":"log","domain":[8.405e10,2.36e13],"nice":false},
    "axis":{"orient":"bottom","values":[1e12,1e13],"labelExpr":"datum.value==1e12?'12':'13'","ticks":false,"tickSize":0,"grid":false,"domain":false,"labelFontSize":20,"labelOffset":7,"labelPadding":6.5,"title":"-1","titleFontSize":20,"titleX":408,"titleY":49,"titleAlign":"center","titleBaseline":"alphabetic"}},
   "y":{"field":"y","type":"quantitative","scale":{"type":"log","domain":[0.0000282,0.0815],"nice":false},
    "axis":{"orient":"left","values":[0.001,0.0001],"labelExpr":"datum.value==0.001?'-3':'-4'","ticks":false,"tickSize":0,"grid":false,"domain":false,"labelFontSize":18,"labelPadding":5,"labelOffset":-1,"title":"B","titleFontSize":17,"titleX":-52,"titleY":217,"titleAngle":-90,"titleAlign":"center","titleBaseline":"alphabetic"}},"text":{"field":"text"}}},
 {"data":{"name":"bars"},"transform":[{"filter":"datum.panel=='r3L'"}],"mark":{"type":"rule","color":"#444","strokeWidth":1.2},
  "encoding":{"x":{"field":"x","type":"quantitative","scale":{"type":"log","domain":[8.405e10,2.36e13],"nice":false},"axis":{"orient":"top","values":[1e12,1e13],"labels":false,"title":null,"grid":false,"tickSize":-21}},
   "y":{"field":"y","type":"quantitative","scale":{"type":"log","domain":[0.0000282,0.0815],"nice":false},"axis":{"orient":"right","values":[0.0001,0.001,0.01],"labels":false,"title":null,"grid":false,"tickSize":-21}},"y2":{"field":"y2"}}}
],"resolve":{"axis":{"x":"independent","y":"independent"}}},

{"width":561,"height":300,"layer":[
 {"data":{"name":"lines"},"transform":[{"filter":"datum.panel=='r3R'"}],"mark":{"type":"line","strokeWidth":1.1},
  "encoding":{"x":{"field":"N","type":"quantitative","scale":{"type":"log","domain":[8.405e10,2.36e13],"nice":false},
   "axis":{"orient":"bottom","values":[2e11,3e11,4e11,5e11,6e11,7e11,8e11,9e11,1e12,2e12,3e12,4e12,5e12,6e12,7e12,8e12,9e12,1e13,2e13],"labelExpr":"(datum.value==1e12||datum.value==1e13)?'10':''","labelFontSize":{"condition":{"test":"datum.value==1e12||datum.value==1e13","value":23},"value":0},"labelOffset":-17,"labelPadding":23,"title":"dN(CS)/dV [cm\u00a0\u00a0\u00a0 / km s\u00a0\u00a0\u00a0]","titleFontSize":24,"titleX":280.5,"titleY":58,"titleAlign":"center","titleBaseline":"alphabetic","tickSize":-12,"grid":true,"gridOpacity":{"condition":{"test":"datum.value==1e12||datum.value==1e13","value":1},"value":0}}},
  "y":{"field":"T","type":"quantitative","scale":{"type":"log","domain":[0.0000282,0.0815],"nice":false},
   "axis":{"orient":"left","values":[0.00003,0.00004,0.00005,0.00006,0.00007,0.00008,0.00009,0.0001,0.0002,0.0003,0.0004,0.0005,0.0006,0.0007,0.0008,0.0009,0.001,0.002,0.003,0.004,0.005,0.006,0.007,0.008,0.009,0.01,0.02,0.03,0.04,0.05,0.06,0.07,0.08],"labels":false,"title":null,"tickSize":-12,"grid":true,"gridOpacity":{"condition":{"test":"datum.value==1||datum.value==0.1||datum.value==0.01||datum.value==0.001||datum.value==0.0001","value":1},"value":0}}},
  "detail":{"field":"series"},
  "color":{"field":"kind","type":"nominal","scale":{"domain":["grid","fiducial","variant"],"range":["#000000","#ff0000","#0000ff"]},"legend":null},
  "strokeDash":{"field":"kind","type":"nominal","scale":{"domain":["grid","fiducial","variant"],"range":[[1,0],[7,5],[7,5]]},"legend":null}}},
 {"data":{"name":"labels"},"transform":[{"filter":"datum.panel=='r3R' && datum.kind=='grid'"}],"mark":{"type":"text","align":"left","baseline":"middle","fontSize":17},
  "encoding":{"x":{"field":"x","type":"quantitative","scale":{"type":"log","domain":[8.405e10,2.36e13],"nice":false},
   "axis":{"orient":"top","values":[2e11,3e11,4e11,5e11,6e11,7e11,8e11,9e11,1e12,2e12,3e12,4e12,5e12,6e12,7e12,8e12,9e12,1e13,2e13],"labels":false,"title":null,"grid":false,"tickSize":-12}},
  "y":{"field":"y","type":"quantitative","scale":{"type":"log","domain":[0.0000282,0.0815],"nice":false},
   "axis":{"orient":"right","values":[0.00003,0.00004,0.00005,0.00006,0.00007,0.00008,0.00009,0.0001,0.0002,0.0003,0.0004,0.0005,0.0006,0.0007,0.0008,0.0009,0.001,0.002,0.003,0.004,0.005,0.006,0.007,0.008,0.009,0.01,0.02,0.03,0.04,0.05,0.06,0.07,0.08],"labels":false,"title":null,"grid":false,"tickSize":-12}},
  "text":{"field":"text"},
  "color":{"field":"kind","type":"nominal","scale":{"domain":["grid","fiducial","variant"],"range":["#000000","#ff0000","#0000ff"]},"legend":null}}},
 {"data":{"name":"labels"},"transform":[{"filter":"datum.panel=='r3R' && datum.kind=='fiducial'"}],"mark":{"type":"text","align":"left","baseline":"middle","fontSize":17},
  "encoding":{"x":{"field":"x","type":"quantitative","scale":{"type":"log","domain":[8.405e10,2.36e13],"nice":false},
   "axis":{"orient":"bottom","values":[1e12,1e13],"labels":false,"grid":false,"tickSize":-21,"title":"-2","titleFontSize":20,"titleX":313,"titleY":49,"titleAlign":"center","titleBaseline":"alphabetic"}},
  "y":{"field":"y","type":"quantitative","scale":{"type":"log","domain":[0.0000282,0.0815],"nice":false},
   "axis":{"orient":"left","values":[0.0001,0.001,0.01],"labels":false,"title":null,"grid":false,"tickSize":-21}},
  "text":{"field":"text"},
  "color":{"field":"kind","type":"nominal","scale":{"domain":["grid","fiducial","variant"],"range":["#000000","#ff0000","#0000ff"]},"legend":null}}},
 {"data":{"name":"capsub"},"transform":[{"filter":"datum.panel=='r3R'"}],"mark":{"type":"text","align":"left","baseline":"middle","fontSize":17,"fontWeight":"bold","color":"#000"},
  "encoding":{"x":{"field":"x","type":"quantitative","scale":{"type":"log","domain":[8.405e10,2.36e13],"nice":false},"axis":null},
   "y":{"field":"y","type":"quantitative","scale":{"type":"log","domain":[0.0000282,0.0815],"nice":false},"axis":null},"text":{"field":"text"}}},
 {"data":{"name":"keys"},"transform":[{"filter":"datum.panel=='r3R'"}],"mark":{"type":"text","align":"right","baseline":"middle","fontSize":24,"fontWeight":"bold","color":"#000"},
  "encoding":{"x":{"field":"x","type":"quantitative","scale":{"type":"log","domain":[8.405e10,2.36e13],"nice":false},
    "axis":{"orient":"bottom","values":[1e12,1e13],"labelExpr":"datum.value==1e12?'12':'13'","ticks":false,"tickSize":0,"grid":false,"domain":false,"labelFontSize":20,"labelOffset":7,"labelPadding":6.5,"title":"-1","titleFontSize":20,"titleX":408,"titleY":49,"titleAlign":"center","titleBaseline":"alphabetic"}},
   "y":{"field":"y","type":"quantitative","scale":{"type":"log","domain":[0.0000282,0.0815],"nice":false},"axis":null},"text":{"field":"text"}}},
 {"data":{"name":"keyexp"},"transform":[{"filter":"datum.panel=='r3R'"}],"mark":{"type":"text","align":"left","baseline":"middle","fontSize":20,"fontWeight":"bold","color":"#000"},
  "encoding":{"x":{"field":"x","type":"quantitative","scale":{"type":"log","domain":[8.405e10,2.36e13],"nice":false},"axis":null},
   "y":{"field":"y","type":"quantitative","scale":{"type":"log","domain":[0.0000282,0.0815],"nice":false},"axis":null},"text":{"field":"text"}}},
 {"data":{"name":"bars"},"transform":[{"filter":"datum.panel=='r3R'"}],"mark":{"type":"rule","color":"#444","strokeWidth":1.2},
  "encoding":{"x":{"field":"x","type":"quantitative","scale":{"type":"log","domain":[8.405e10,2.36e13],"nice":false},"axis":{"orient":"top","values":[1e12,1e13],"labels":false,"title":null,"grid":false,"tickSize":-21}},
   "y":{"field":"y","type":"quantitative","scale":{"type":"log","domain":[0.0000282,0.0815],"nice":false},"axis":{"orient":"right","values":[0.0001,0.001,0.01],"labels":false,"title":null,"grid":false,"tickSize":-21}},"y2":{"field":"y2"}}}
],"resolve":{"axis":{"x":"independent","y":"independent"}}}
],
"columns":2,
"align":"each",
"spacing":{"row":6,"column":9}
}
